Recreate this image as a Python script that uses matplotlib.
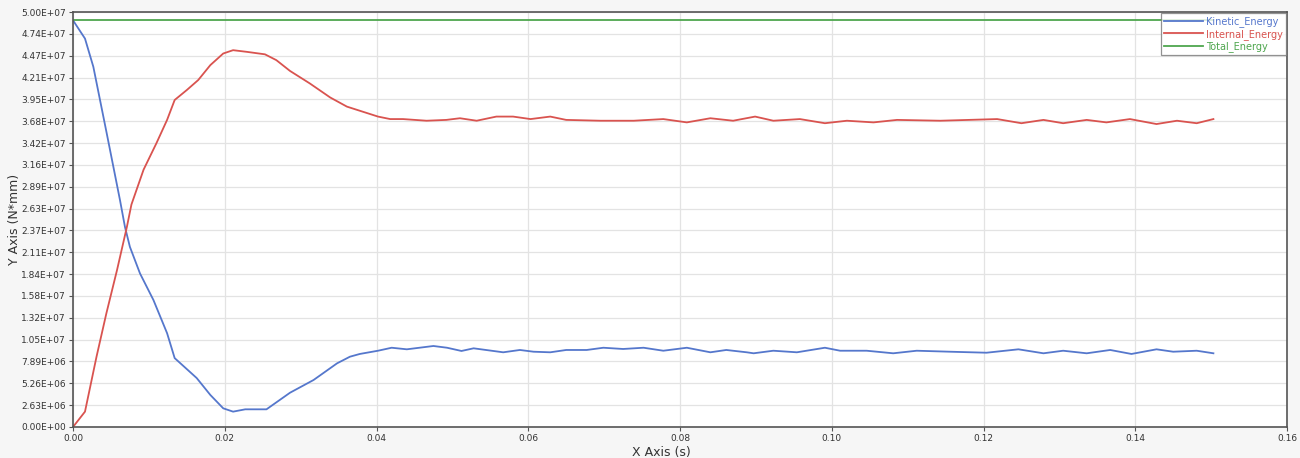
import matplotlib
matplotlib.use("Agg")
import matplotlib.pyplot as plt
from matplotlib import font_manager
import numpy as np

# Data
t_kin = [0.0, 0.00158, 0.00268, 0.00356, 0.00444, 0.00531, 0.0062, 0.00685, 0.0075, 0.00883,
         0.0106, 0.0124, 0.0134, 0.0163, 0.0181, 0.0198, 0.0211, 0.0227, 0.0255, 0.0286,
         0.0317, 0.0348, 0.0365, 0.0378, 0.0402, 0.042, 0.044, 0.0475, 0.0493, 0.0512,
         0.0528, 0.0567, 0.0589, 0.0607, 0.0629, 0.065, 0.0677, 0.0699, 0.0725, 0.0752,
         0.0778, 0.0809, 0.084, 0.0861, 0.0888, 0.0897, 0.0923, 0.0954, 0.0991, 0.1011,
         0.1046, 0.1081, 0.1112, 0.1156, 0.1204, 0.1246, 0.1279, 0.1305, 0.1336, 0.1367,
         0.1395, 0.1428, 0.1450, 0.1481, 0.1503]
kinetic = [49.0, 46.8, 43.4, 39.4, 35.4, 31.4, 27.3, 24.1, 21.7, 18.5,
           15.3, 11.3, 8.3, 5.9, 3.86, 2.25, 1.85, 2.13, 2.13, 4.13,
           5.66, 7.67, 8.47, 8.8, 9.19, 9.55, 9.36, 9.76, 9.55, 9.16,
           9.48, 9.0, 9.28, 9.07, 9.0, 9.28, 9.28, 9.55, 9.4, 9.55,
           9.19, 9.55, 9.0, 9.28, 9.0, 8.88, 9.19, 9.0, 9.55, 9.19,
           9.19, 8.88, 9.19, 9.07, 8.95, 9.36, 8.88, 9.19, 8.88, 9.28,
           8.8, 9.36, 9.07, 9.19, 8.88]

t_int = [0.0, 0.00158, 0.0031, 0.0044, 0.0058, 0.0071, 0.0077, 0.0093, 0.011, 0.0124,
         0.0134, 0.015, 0.0165, 0.0181, 0.0198, 0.0211, 0.0229, 0.0253, 0.0268, 0.0286,
         0.0312, 0.0339, 0.0361, 0.0402, 0.0418, 0.0435, 0.0466, 0.0492, 0.051, 0.0532,
         0.0558, 0.058, 0.0603, 0.0629, 0.065, 0.0695, 0.0739, 0.0778, 0.0809, 0.084,
         0.087, 0.0899, 0.0923, 0.0958, 0.0991, 0.102, 0.1055, 0.1086, 0.1143, 0.1218,
         0.125, 0.1279, 0.1305, 0.1336, 0.1362, 0.1393, 0.1428, 0.1455, 0.1481, 0.1503]
internal = [0.0, 1.85, 8.47, 13.7, 18.9, 24.1, 26.8, 31.0, 34.2, 37.0,
            39.4, 40.6, 41.8, 43.6, 45.0, 45.4, 45.2, 44.9, 44.2, 42.9,
            41.4, 39.7, 38.6, 37.4, 37.1, 37.1, 36.9, 37.0, 37.2, 36.9,
            37.4, 37.4, 37.1, 37.4, 37.0, 36.9, 36.9, 37.1, 36.7, 37.2,
            36.9, 37.4, 36.9, 37.1, 36.6, 36.9, 36.7, 37.0, 36.9, 37.1,
            36.6, 37.0, 36.6, 37.0, 36.7, 37.1, 36.5, 36.9, 36.6, 37.1]

t_tot = [0.0, 0.1503]
total = [49.0, 49.0]

series_names = ["Kinetic_Energy", "Internal_Energy", "Total_Energy"]
colors = ["#5577cc", "#d9534f", "#4ea64e"]

xticks = [0.00, 0.02, 0.04, 0.06, 0.08, 0.10, 0.12, 0.14, 0.16]
yticks = np.linspace(0, 5e7, 20)

# pick a narrow font if available
names = {f.name for f in font_manager.fontManager.ttflist}
narrow = "Liberation Sans Narrow" if "Liberation Sans Narrow" in names else "DejaVu Sans"
tick_fs = 7.5 if narrow != "DejaVu Sans" else 6.5

fig = plt.figure(figsize=(13, 4.58), dpi=100, facecolor="#f6f6f6")
ax = fig.add_axes([73/1300, 31/458, 1214/1300, 415/458])
ax.set_facecolor("white")

ax.plot(t_kin, np.array(kinetic) * 1e6, color=colors[0], lw=1.3, label=series_names[0])
ax.plot(t_int, np.array(internal) * 1e6, color=colors[1], lw=1.3, label=series_names[1])
ax.plot(t_tot, np.array(total) * 1e6, color=colors[2], lw=1.3, label=series_names[2])

ax.set_xlim(0, 0.16)
ax.set_ylim(0, 5e7)
ax.set_xticks(xticks)
ax.set_xticklabels([f"{v:.2f}" for v in xticks], fontsize=tick_fs, color="#333333", family=narrow)
ax.set_yticks(yticks)
ax.set_yticklabels([f"{v:.2E}" for v in yticks], fontsize=tick_fs, color="#333333", family=narrow)
ax.tick_params(axis="both", length=3, width=0.8, color="#555555", pad=2)
ax.grid(True, color="#e3e3e3", lw=0.9)
ax.set_axisbelow(True)
for s in ax.spines.values():
    s.set_color("#555555")
    s.set_linewidth(1.2)

ax.set_xlabel("X Axis (s)", fontsize=9, color="#333333", family=narrow, labelpad=1)
ax.xaxis.set_label_coords((661 - 73) / 1214, -0.045)
fig.text(15 / 1300, 0.5 + (458/2 - 219) / 458, "Y Axis (N*mm)", rotation=90, fontsize=9,
         color="#333333", family=narrow, ha="center", va="center")

leg = ax.legend(loc="upper right", fontsize=tick_fs + 0.3, frameon=True, fancybox=False,
                edgecolor="#777777", borderpad=0.3, labelspacing=0.15,
                handlelength=4.0, handletextpad=0.3, borderaxespad=0.15,
                prop={"family": narrow, "size": tick_fs + 0.5})
leg.get_frame().set_linewidth(0.9)
for txt, c in zip(leg.get_texts(), colors):
    txt.set_color(c)

fig.savefig("out.png", dpi=100, facecolor=fig.get_facecolor())
